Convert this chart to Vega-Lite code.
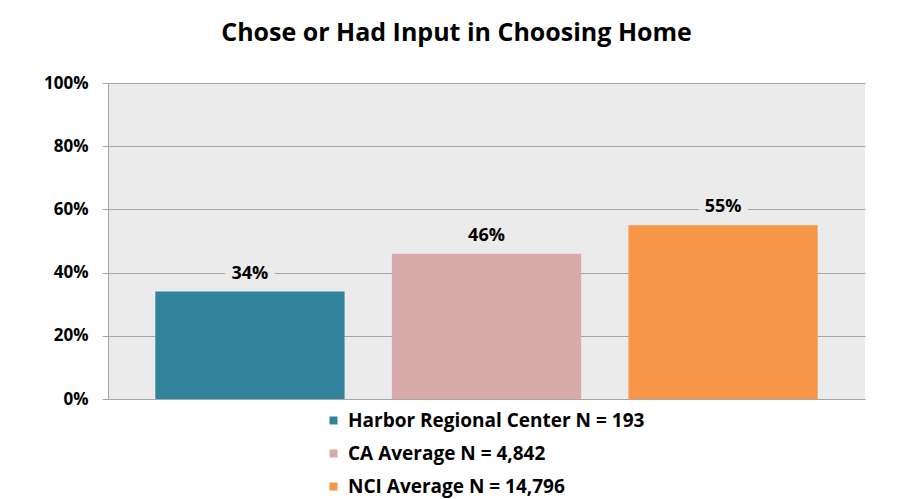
{
  "$schema": "https://vega.github.io/schema/vega-lite/v6.json",
  "width": 757,
  "height": 316,
  "autosize": "none",
  "padding": {"left": 108, "top": 83, "right": 33, "bottom": 100},
  "background": "white",
  "title": {
    "text": "Chose or Had Input in Choosing Home",
    "font": "Open Sans",
    "fontSize": 25,
    "fontWeight": "bold",
    "color": "#000000",
    "anchor": "middle",
    "dx": -30,
    "offset": 28
  },
  "data": {
    "values": [
      {"group": "Harbor Regional Center N = 193", "value": 0.34, "label": "34%"},
      {"group": "CA Average N = 4,842", "value": 0.46, "label": "46%"},
      {"group": "NCI Average N = 14,796", "value": 0.55, "label": "55%"}
    ]
  },
  "config": {
    "view": {"fill": "#EBEBEB", "stroke": null},
    "font": "Open Sans"
  },
  "encoding": {
    "x": {
      "field": "group",
      "type": "nominal",
      "sort": null,
      "scale": {"paddingInner": 0.2, "paddingOuter": 0.2},
      "axis": null
    }
  },
  "layer": [
    {
      "mark": {"type": "bar"},
      "encoding": {
        "y": {
          "field": "value",
          "type": "quantitative",
          "scale": {"domain": [0, 1]},
          "axis": {
            "values": [0, 0.2, 0.4, 0.6, 0.8, 1],
            "format": ".0%",
            "title": null,
            "grid": true,
            "gridColor": "#A6A6A6",
            "gridWidth": 1.2,
            "domainColor": "#A6A6A6",
            "tickColor": "#A6A6A6",
            "tickSize": 6,
            "labelPadding": 14,
            "labelFont": "Open Sans",
            "labelFontSize": 17,
            "labelFontWeight": "bold",
            "labelColor": "#000000"
          }
        },
        "color": {
          "field": "group",
          "type": "nominal",
          "sort": null,
          "scale": {
            "domain": ["Harbor Regional Center N = 193", "CA Average N = 4,842", "NCI Average N = 14,796"],
            "range": ["#31849B", "#D9AAAA", "#F79646"]
          },
          "legend": {
            "title": null,
            "orient": "none",
            "legendX": 216,
            "legendY": 328,
            "symbolType": "square",
            "symbolSize": 64,
            "symbolStrokeWidth": 0,
            "labelFont": "Open Sans",
            "labelFontSize": 19,
            "labelFontWeight": "bold",
            "labelColor": "#000000",
            "labelOffset": 5,
            "rowPadding": 13,
            "labelLimit": 400
          }
        }
      }
    },
    {
      "mark": {"type": "text", "font": "Open Sans", "fontSize": 18, "fontWeight": "bold", "fill": "#EBEBEB", "stroke": "#EBEBEB", "strokeWidth": 14, "dy": -18, "baseline": "middle"},
      "encoding": {
        "y": {"field": "value", "type": "quantitative"},
        "text": {"field": "label"}
      }
    },
    {
      "mark": {"type": "text", "font": "Open Sans", "fontSize": 18, "fontWeight": "bold", "color": "#000000", "dy": -18, "baseline": "middle"},
      "encoding": {
        "y": {"field": "value", "type": "quantitative"},
        "text": {"field": "label"}
      }
    }
  ]
}
